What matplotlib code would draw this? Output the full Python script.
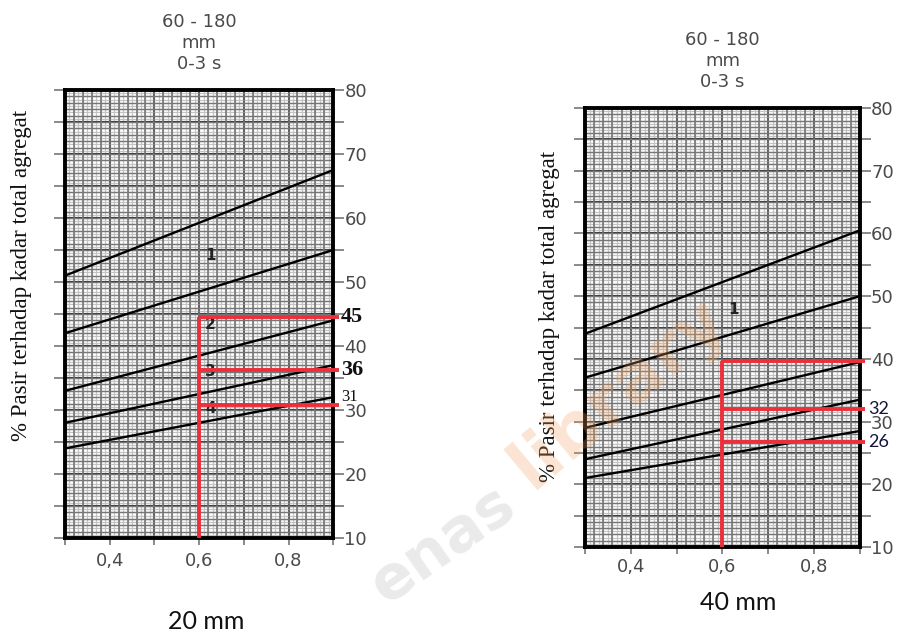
import numpy as np
import matplotlib.pyplot as plt
from matplotlib.ticker import MultipleLocator, FuncFormatter

# kadar semen / faktor air-semen (sumbu x) dan garis kurva 1..5
x_ends = [0.3, 0.9]

# 20 mm agregat
curves_20 = [
    [51.0, 67.5],
    [42.0, 55.0],
    [33.0, 44.0],
    [28.0, 37.0],
    [24.0, 32.0],
]
# 40 mm agregat
curves_40 = [
    [44.0, 60.5],
    [37.0, 50.0],
    [29.0, 39.5],
    [24.0, 33.5],
    [21.0, 28.5],
]

fas = 0.6
red_20 = [44.6, 36.2, 30.8]
red_labels_20 = ['45', '36', '31']
red_40 = [39.7, 32.0, 26.7]
red_labels_40 = ['', '32', '26']

curve_no_20 = ['1', '2', '3', '4']
curve_no_y_20 = [54.2, 43.3, 36.0, 30.3]
curve_no_40 = ['1']
curve_no_y_40 = [47.8]

title_txt = '60 - 180\nmm\n0-3 s'
ylabel_txt = '% Pasir terhadap kadar total agregat'
captions = ['20 mm', '40 mm']
xtick_labels = {0.4: '0,4', 0.6: '0,6', 0.8: '0,8'}

RED = '#ec2f3b'
GREY_TXT = '#4a4a4a'


def xfmt(v, pos):
    for k, s in xtick_labels.items():
        if abs(v - k) < 1e-6:
            return s
    return ''


def yfmt(v, pos):
    if abs(v % 10) < 1e-6:
        return '%d' % v
    return ''


def draw_panel(ax, curves, red_levels, red_labels, label_style, xpad):
    ax.set_xlim(0.3, 0.9)
    ax.set_ylim(10, 80)

    ax.xaxis.set_major_locator(MultipleLocator(0.1))
    ax.xaxis.set_minor_locator(MultipleLocator(0.01))
    ax.yaxis.set_major_locator(MultipleLocator(5))
    ax.yaxis.set_minor_locator(MultipleLocator(0.5))
    ax.xaxis.set_major_formatter(FuncFormatter(xfmt))
    ax.yaxis.set_major_formatter(FuncFormatter(yfmt))

    ax.grid(which='minor', color='#c4c4c4', lw=0.9)
    ax.grid(which='major', color='#383838', lw=1.5)
    # garis kertas milimeter tiap 0.02 dan tiap 1 %
    for xv in np.arange(0.32, 0.9, 0.02):
        ax.axvline(xv, color='#6e6e6e', lw=1.1, zorder=0.6)
    for yv in np.arange(11, 80, 1):
        ax.axhline(yv, color='#767676', lw=1.0, zorder=0.6)
    ax.set_axisbelow(True)

    ax.tick_params(axis='y', which='major', left=True, right=True,
                   labelleft=False, labelright=True, length=8, width=1.3,
                   color='#808080', labelcolor=GREY_TXT, labelsize=13, pad=0)
    ax.tick_params(axis='x', which='major', length=5, width=1.3,
                   color='#808080', labelcolor=GREY_TXT, labelsize=13,
                   pad=xpad)
    ax.tick_params(which='minor', length=0)

    for sp in ax.spines.values():
        sp.set_linewidth(2.8)
        sp.set_color('black')

    for c in curves:
        ax.plot(x_ends, c, color='black', lw=1.7, zorder=3)

    # garis merah pembacaan
    ax.plot([fas, fas], [10, red_levels[0]], color=RED, lw=2.8, zorder=4,
            clip_on=False, solid_capstyle='butt')
    for i, lv in enumerate(red_levels):
        ax.plot([fas, 0.912], [lv, lv], color=RED, lw=2.8, zorder=4,
                clip_on=False, solid_capstyle='butt')
        if red_labels[i]:
            kw = dict(va='center', ha='left')
            kw.update(label_style[i])
            ax.text(0.917, lv, red_labels[i], zorder=5, clip_on=False, **kw)

    ax.annotate(title_txt, xy=(0.5, 1.0), xycoords='axes fraction',
                xytext=(0, 47), textcoords='offset pixels', ha='center',
                va='center', fontsize=13, color=GREY_TXT, linespacing=1.2)


fig = plt.figure(figsize=(9.03, 6.34), dpi=100)

ax1 = fig.add_axes([0.072, 0.1514, 0.297, 0.7066])
style_20 = [
    dict(fontsize=16, fontweight='bold', family='Liberation Serif', color='#111111'),
    dict(fontsize=16, fontweight='bold', family='Liberation Serif', color='#111111'),
    dict(fontsize=12, family='Liberation Serif', color='#111111', va='bottom'),
]
draw_panel(ax1, curves_20, red_20, red_labels_20, style_20, xpad=5)

ax2 = fig.add_axes([0.6478, 0.1372, 0.3045, 0.6924])
style_40 = [
    None,
    dict(fontsize=13, family='Lato', color='#15153a'),
    dict(fontsize=13, family='Lato', color='#15153a'),
]
draw_panel(ax2, curves_40, red_40, red_labels_40, style_40, xpad=3)

# nomor kurva
for ax, labels, ys in [(ax1, curve_no_20, curve_no_y_20),
                       (ax2, curve_no_40, curve_no_y_40)]:
    for lab, yv in zip(labels, ys):
        ax.text(0.625, yv, lab, fontsize=11, fontweight='bold', ha='center',
                va='center', color='#222222', zorder=3.5)

fig.text(0.024, 0.566, ylabel_txt, rotation=90, ha='center', va='center',
         family='Liberation Serif', fontsize=16.5, color='#111111')
fig.text(0.609, 0.501, ylabel_txt, rotation=90, ha='center', va='center',
         family='Liberation Serif', fontsize=16.5, color='#111111')

fig.text(0.228, 0.019, captions[0], ha='center', va='center', family='Lato',
         fontsize=18, color='#111111')
fig.text(0.818, 0.049, captions[1], ha='center', va='center', family='Lato',
         fontsize=18, color='#111111')

# watermark
fig.text(0.49, 0.14, 'enas', rotation=35, ha='center', va='center',
         fontsize=44, fontweight='bold', color='#cccccc', alpha=0.4,
         zorder=10)
fig.text(0.685, 0.38, 'library', rotation=40, ha='center', va='center',
         fontsize=50, fontweight='bold', color='#f3a060', alpha=0.28,
         zorder=10)

fig.savefig('out.png', dpi=100)
